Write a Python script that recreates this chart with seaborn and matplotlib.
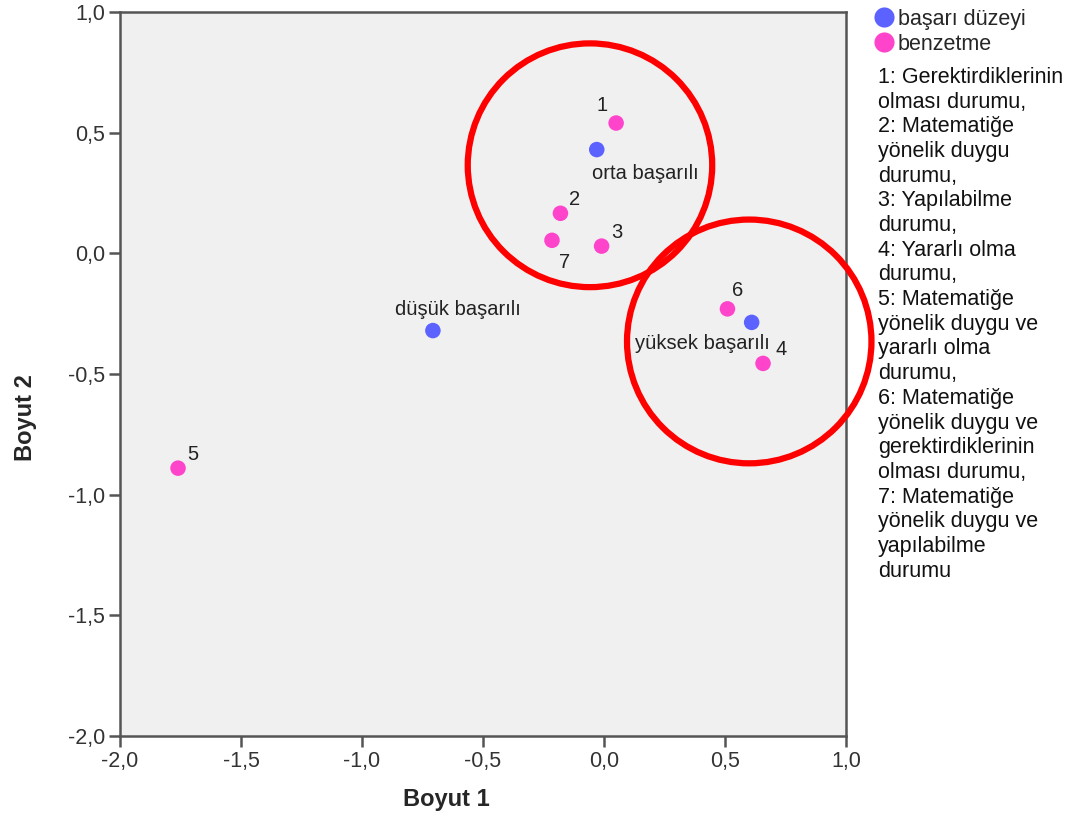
import matplotlib
matplotlib.use("Agg")
import matplotlib.pyplot as plt
import seaborn as sns
import pandas as pd
from matplotlib.patches import Circle
from matplotlib.lines import Line2D

# Data
labels = ["orta başarılı", "düşük başarılı", "yüksek başarılı",
          "1", "2", "3", "4", "5", "6", "7"]
groups = ["başarı düzeyi"] * 3 + ["benzetme"] * 7
boyut1 = [-0.03, -0.707, 0.61, 0.05, -0.18, -0.01, 0.657, -1.76, 0.51, -0.215]
boyut2 = [0.43, -0.32, -0.286, 0.54, 0.166, 0.03, -0.456, -0.89, -0.23, 0.054]
x_ticks = [-2.0, -1.5, -1.0, -0.5, 0.0, 0.5, 1.0]
y_ticks = [-2.0, -1.5, -1.0, -0.5, 0.0, 0.5, 1.0]
desc = ("1: Gerektirdiklerinin\nolması durumu,\n2: Matematiğe\nyönelik duygu\ndurumu,\n"
        "3: Yapılabilme\ndurumu,\n4: Yararlı olma\ndurumu,\n5: Matematiğe\nyönelik duygu ve\n"
        "yararlı olma\ndurumu,\n6: Matematiğe\nyönelik duygu ve\ngerektirdiklerinin\n"
        "olması durumu,\n7: Matematiğe\nyönelik duygu ve\nyapılabilme\ndurumu")
# label offsets (points) and alignment
offsets = {
    "orta başarılı": (-3.5, -21, "left"),
    "düşük başarılı": (18, 11, "center"),
    "yüksek başarılı": (13, -19, "right"),
    "1": (-10, 9, "center"),
    "2": (6.5, 6, "left"),
    "3": (7, 6, "left"),
    "4": (9, 6, "left"),
    "5": (6.5, 6, "left"),
    "6": (3.5, 9, "left"),
    "7": (5, -20, "left"),
}

df = pd.DataFrame({"Boyut 1": boyut1, "Boyut 2": boyut2, "grp": groups, "lab": labels})

sns.set_style("white")
plt.rcParams["font.family"] = ["Liberation Sans", "DejaVu Sans"]

fig = plt.figure(figsize=(10.7, 8.17), dpi=100)
ax = fig.add_axes([0.1121, 0.0991, 0.6786, 0.8862])
ax.set_facecolor("#f0f0f0")

palette = {"başarı düzeyi": "#5c62ff", "benzetme": "#ff44cc"}
sns.scatterplot(data=df, x="Boyut 1", y="Boyut 2", hue="grp", palette=palette,
                s=125, edgecolor="none", legend=False, ax=ax, zorder=3)

for _, r in df.iterrows():
    dx, dy, ha = offsets[r["lab"]]
    ax.annotate(r["lab"], (r["Boyut 1"], r["Boyut 2"]), xytext=(dx, dy),
                textcoords="offset points", ha=ha, va="baseline",
                fontsize=14.5, color="#222222")

ax.set_xlim(-2.0, 1.0)
ax.set_ylim(-2.0, 1.0)
ax.set_xticks(x_ticks)
ax.set_yticks(y_ticks)
ax.set_xticklabels([f"{v:.1f}".replace(".", ",") for v in x_ticks], fontsize=15.5, color="#333333")
ax.set_yticklabels([f"{v:.1f}".replace(".", ",") for v in y_ticks], fontsize=15.5, color="#333333")
ax.tick_params(direction="out", length=8, width=1.8, color="#555555", bottom=True, left=True, pad=2.5)
for sp in ax.spines.values():
    sp.set_color("#555555")
    sp.set_linewidth(1.8)
ax.set_xlabel("Boyut 1", fontsize=17, fontweight="bold")
ax.set_ylabel("Boyut 2", fontsize=17, fontweight="bold")
ax.xaxis.set_label_coords(0.45, -0.087)
ax.xaxis.label.set_va("center")
ax.yaxis.set_label_coords(-0.13, 0.44)
ax.yaxis.label.set_va("center")

# Red circles
for cx, cy in [(-0.058, 0.365), (0.6, -0.365)]:
    ax.add_patch(Circle((cx, cy), 0.505, fill=False, edgecolor="#ff0000",
                        linewidth=4.5, clip_on=False, zorder=4))

# Legend
handles = [Line2D([0], [0], marker="o", linestyle="", markersize=14.5,
                  markerfacecolor=palette[k], markeredgecolor="none", label=k)
           for k in palette]
fig.legend(handles=handles, loc="upper left", bbox_to_anchor=(0.809, 1.0),
           frameon=False, fontsize=15.5, handletextpad=0.2, labelspacing=0.2,
           borderpad=0.4, borderaxespad=0.0, handlelength=0.9)
fig.text(0.8206, 0.918, desc, fontsize=15.5, va="top", ha="left",
         linespacing=1.23, color="#111111")

fig.savefig("out.png", dpi=100)
